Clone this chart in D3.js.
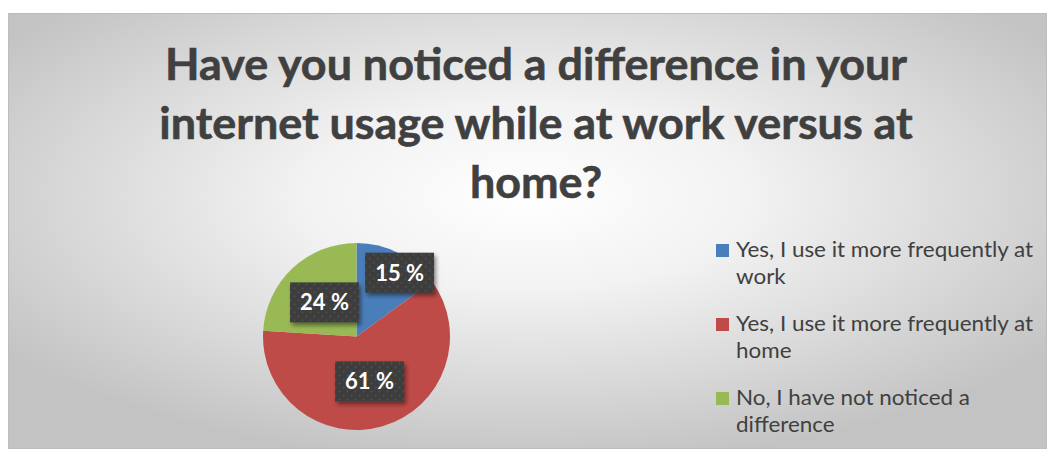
<!DOCTYPE html>
<html>
<head>
<meta charset="utf-8">
<script src="https://cdn.jsdelivr.net/npm/d3@7"></script>
<style>
  html, body { margin: 0; padding: 0; background: #fff; }
  svg { display: block; }
  text { font-family: Lato, "Open Sans", sans-serif; }
</style>
</head>
<body>
<div id="chart"></div>
<script>
const titleLines = ["Have you noticed a difference in your", "internet usage while at work versus at", "home?"];
const categories = ["Yes, I use it more frequently at work", "Yes, I use it more frequently at home", "No, I have not noticed a difference"];
const legendLines = [["Yes, I use it more frequently at", "work"], ["Yes, I use it more frequently at", "home"], ["No, I have not noticed a", "difference"]];
const values = [15, 61, 24];
const colors = ["#4a7ebb", "#be4b48", "#98b954"];

const W = 1048, H = 452;
const svg = d3.select("#chart").append("svg").attr("width", W).attr("height", H);
const defs = svg.append("defs");

// background gradient, lighter in the middle
const bg = defs.append("radialGradient").attr("id", "bg")
    .attr("cx", 0.5).attr("cy", 0.42).attr("r", 0.62);
bg.append("stop").attr("offset", 0).attr("stop-color", "#ffffff");
bg.append("stop").attr("offset", 0.35).attr("stop-color", "#f2f2f2");
bg.append("stop").attr("offset", 1).attr("stop-color", "#c3c3c3");

// dotted texture for the label boxes
const pat = defs.append("pattern").attr("id", "dots")
    .attr("patternUnits", "userSpaceOnUse").attr("width", 8).attr("height", 8);
pat.append("rect").attr("width", 8).attr("height", 8).attr("fill", "#3c3c3c");
pat.append("circle").attr("cx", 2).attr("cy", 2).attr("r", 0.9).attr("fill", "#555");
pat.append("circle").attr("cx", 6).attr("cy", 6).attr("r", 0.9).attr("fill", "#555");

const shadow = defs.append("filter").attr("id", "shadow")
    .attr("x", "-20%").attr("y", "-20%").attr("width", "150%").attr("height", "160%");
shadow.append("feDropShadow").attr("dx", 2).attr("dy", 3).attr("stdDeviation", 2)
    .attr("flood-color", "#000").attr("flood-opacity", 0.45);

svg.append("rect").attr("x", 8.5).attr("y", 13.5).attr("width", 1038).attr("height", 435)
    .attr("fill", "url(#bg)").attr("stroke", "#bdbdbd").attr("stroke-width", 1);

// squeeze text a bit so it is as narrow as the original font
const squeeze = (sel, k) => sel.each(function () {
  const len = this.getComputedTextLength();
  d3.select(this).attr("textLength", len * k).attr("lengthAdjust", "spacingAndGlyphs");
});

// title
const title = svg.append("g").attr("fill", "#404040")
  .selectAll("text").data(titleLines).join("text")
    .attr("x", 536)
    .attr("y", (d, i) => 80 + i * 59)
    .attr("text-anchor", "middle")
    .style("font-size", "44px")
    .style("font-weight", "bold")
    .style("stroke", "#404040").style("stroke-width", 0.6)
    .text(d => d);
const titleK = 742 / title.node().getComputedTextLength();
squeeze(title, titleK);

// pie
const cx = 356.5, cy = 336.5, r = 93.5;
const pie = d3.pie().sort(null).value(d => d)(values);
const arc = d3.arc().innerRadius(0).outerRadius(r);
const g = svg.append("g").attr("transform", `translate(${cx},${cy})`);
g.selectAll("path").data(pie).join("path")
    .attr("d", arc)
    .attr("fill", (d, i) => colors[i]);

// data labels: small slices get pushed outward
const labelArc = d => {
  const a = (d.startAngle + d.endAngle) / 2;
  const lr = d.data < 20 ? r * 0.85 : r * 0.5;
  const shift = d.data < 20 ? 7 : 0;
  return [Math.sin(a) * lr + shift, -Math.cos(a) * lr + shift];
};
const labels = g.selectAll("g.lab").data(pie).join("g").attr("class", "lab")
    .attr("transform", d => `translate(${labelArc(d)})`);
labels.append("rect").attr("fill", "url(#dots)").attr("filter", "url(#shadow)");
const ltext = labels.append("text")
    .attr("text-anchor", "middle").attr("dy", "0.36em")
    .attr("fill", "#fff")
    .style("font-size", "22px").style("font-weight", "bold")
    .text(d => d.data + " %");
ltext.each(function () {
  const w = this.getComputedTextLength();
  d3.select(this.parentNode).select("rect")
      .attr("x", -w / 2 - 10).attr("y", -20).attr("width", w + 20).attr("height", 40);
});

// legend
const legend = svg.append("g").attr("transform", "translate(716,0)");
const items = legend.selectAll("g").data(categories).join("g")
    .attr("transform", (d, i) => `translate(0,${257 + i * 74})`);
items.append("rect").attr("x", 0).attr("y", -13).attr("width", 13).attr("height", 13)
    .attr("fill", (d, i) => colors[i]);
const ltexts = items.append("text").attr("fill", "#404040")
    .style("font-size", "21px");
ltexts.selectAll("tspan").data((d, i) => legendLines[i]).join("tspan")
    .attr("x", 20).attr("y", (d, j) => j * 27)
    .text(d => d);
const legK = 297 / ltexts.select("tspan").node().getComputedTextLength();
ltexts.selectAll("tspan").each(function () {
  const len = this.getComputedTextLength();
  d3.select(this).attr("textLength", len * legK).attr("lengthAdjust", "spacingAndGlyphs");
});
</script>
</body>
</html>
